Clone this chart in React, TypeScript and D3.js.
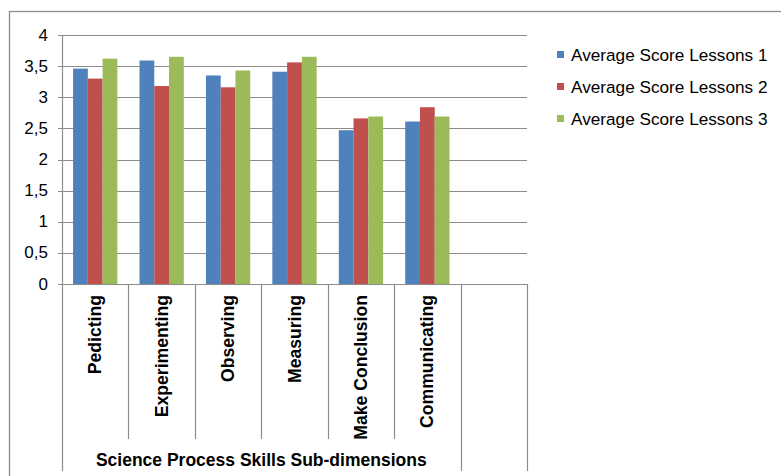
import React from "react";
import * as d3 from "d3";

const categories = ["Pedicting", "Experimenting", "Observing", "Measuring", "Make Conclusion", "Communicating", ""];
const seriesNames = ["Average Score Lessons 1", "Average Score Lessons 2", "Average Score Lessons 3"];
const lesson1 = [3.46, 3.59, 3.35, 3.41, 2.47, 2.61];
const lesson2 = [3.3, 3.18, 3.16, 3.56, 2.66, 2.84];
const lesson3 = [3.62, 3.65, 3.43, 3.65, 2.69, 2.69];
const yTicks = [0, 0.5, 1, 1.5, 2, 2.5, 3, 3.5, 4];
const yTickLabels = ["0", "0,5", "1", "1,5", "2", "2,5", "3", "3,5", "4"];
const groupTitle = "Science Process Skills Sub-dimensions";
const colors = ["#4F81BD", "#C0504D", "#9BBB59"];

export default function App() {
  const W = 781, H = 476;
  const left = 62, right = 527, top = 35, bottom = 284;
  const font = "'Liberation Sans', Arial, sans-serif";
  const grid = "#8c8c8c";
  const series = [lesson1, lesson2, lesson3];

  const x = d3.scaleBand<string>().domain(categories.map((c, i) => String(i))).range([left, right]).paddingInner(1 / 3).paddingOuter(1 / 6);
  const xs = d3.scaleBand<string>().domain(seriesNames).range([0, x.bandwidth()]);
  const y = d3.scaleLinear().domain([0, 4]).range([bottom, top]);
  const step = x.step();
  const boundaries = d3.range(categories.length + 1).map((i) => left + i * step);
  const groupEnd = boundaries[6];

  return (
    <div style={{ position: "absolute", left: 0, top: 0 }}>
      <svg width={W} height={H} style={{ display: "block", background: "#fff" }}>
        <rect x={9.5} y={11.5} width={W + 20} height={H + 20} fill="none" stroke={grid} strokeWidth={1.3} />
        {yTicks.map((t, i) => (
          <g key={i}>
            <line x1={left - 4} x2={right} y1={Math.round(y(t)) + 0.5} y2={Math.round(y(t)) + 0.5} stroke={grid} strokeWidth={1.2} />
            <text x={48} y={y(t)} textAnchor="end" dominantBaseline="central" fontFamily={font} fontSize={17} fill="#000">
              {yTickLabels[i]}
            </text>
          </g>
        ))}
        <line x1={left + 0.5} x2={left + 0.5} y1={top} y2={471} stroke={grid} strokeWidth={1.2} />
        {boundaries.slice(1).map((bx, i) => {
          const full = i + 1 === 6 || i + 1 === 7;
          return (
            <line key={i} x1={Math.round(bx) + 0.5} x2={Math.round(bx) + 0.5} y1={bottom} y2={full ? 471 : 439} stroke={grid} strokeWidth={1.2} />
          );
        })}
        {series.map((vals, si) =>
          vals.map((v, ci) => (
            <rect
              key={si + "-" + ci}
              x={(x(String(ci)) as number) + (xs(seriesNames[si]) as number)}
              y={y(v)}
              width={xs.bandwidth()}
              height={y(0) - y(v)}
              fill={colors[si]}
            />
          ))
        )}
        {categories.map((c, i) => {
          const cx = left + (i + 0.5) * step;
          return (
            <text
              key={i}
              transform={`translate(${cx},295) rotate(-90)`}
              textAnchor="end"
              dominantBaseline="central"
              fontFamily={font}
              fontSize={17.6}
              fontWeight="bold"
              fill="#000"
            >
              {c}
            </text>
          );
        })}
        <text x={(left + groupEnd) / 2} y={460} textAnchor="middle" dominantBaseline="central" fontFamily={font} fontSize={17.5} fontWeight="bold" fill="#000">
          {groupTitle}
        </text>
        {seriesNames.map((s, i) => (
          <g key={s}>
            <rect x={557} y={51 + i * 32} width={7} height={7} fill={colors[i]} />
            <text x={571} y={55 + i * 32} dominantBaseline="central" fontFamily={font} fontSize={17.2} fill="#000">
              {s}
            </text>
          </g>
        ))}
      </svg>
    </div>
  );
}
